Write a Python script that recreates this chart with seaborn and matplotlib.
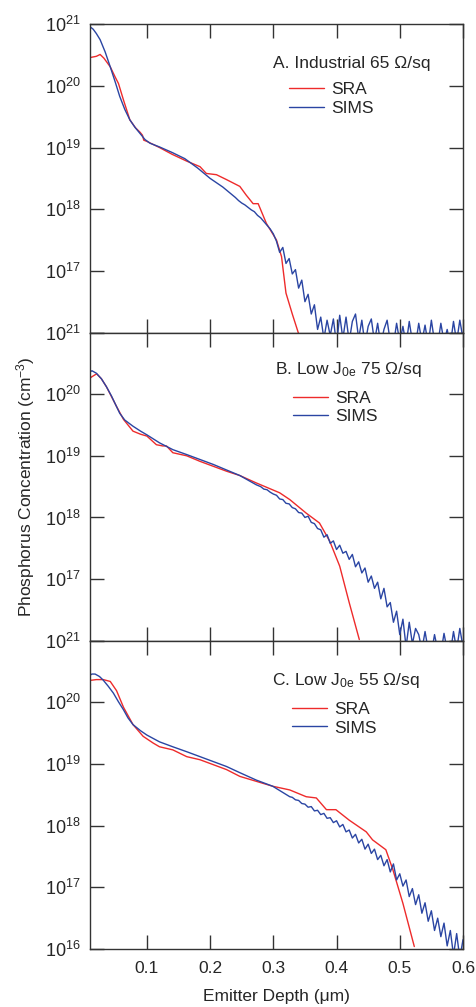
import numpy as np
import pandas as pd
import seaborn as sns
import matplotlib.pyplot as plt
from matplotlib.ticker import FixedLocator, NullLocator, FuncFormatter

# ─────────────────────────────────────────
# Data (depth in um, concentration as log10 cm^-3)
# ─────────────────────────────────────────
titles = ["A. Industrial 65 Ω/sq",
          "B. Low J$_{0e}$ 75 Ω/sq",
          "C. Low J$_{0e}$ 55 Ω/sq"]

# Panel A
sra_a_x = [0.01, 0.02, 0.026, 0.032, 0.042, 0.05, 0.055, 0.063, 0.073, 0.082, 0.089, 0.093,
           0.095, 0.1, 0.12, 0.14, 0.163, 0.184, 0.194, 0.21, 0.226, 0.247, 0.257, 0.268,
           0.276, 0.289, 0.305, 0.313, 0.32, 0.33, 0.34]
sra_a_y = [20.46, 20.48, 20.51, 20.45, 20.31, 20.14, 20.04, 19.77, 19.45, 19.32, 19.25, 19.20,
           19.12, 19.10, 19.00, 18.89, 18.78, 18.69, 18.58, 18.56, 18.48, 18.37, 18.23, 18.09,
           18.09, 17.77, 17.50, 17.23, 16.64, 16.30, 15.98]
sims_a_head_x = [0.01, 0.015, 0.02, 0.026, 0.034, 0.042, 0.05, 0.057, 0.065, 0.073, 0.081,
                 0.089, 0.097, 0.105, 0.12, 0.14, 0.16, 0.18, 0.2, 0.22, 0.24]
sims_a_head_y = [20.96, 20.92, 20.85, 20.75, 20.55, 20.31, 20.06, 19.83, 19.62, 19.45, 19.33,
                 19.23, 19.13, 19.07, 19.01, 18.92, 18.82, 18.67, 18.50, 18.36, 18.19]
sims_a_tail_y = [18.14, 18.10, 18.07, 18.03, 17.99, 17.96, 17.90, 17.86, 17.80, 17.74, 17.68,
                 17.60, 17.48, 17.30, 17.38, 17.12, 17.20, 16.95, 17.02, 16.72, 16.85, 16.50,
                 16.62, 16.30, 16.45, 16.05, 16.25, 15.90, 16.20, 15.95, 16.22, 15.80, 16.28,
                 15.90, 16.25, 15.85, 16.18, 16.30, 15.90, 16.20, 15.80, 16.10, 16.22, 15.85,
                 16.15, 15.80, 16.05, 16.20, 15.85, 15.80, 16.15, 15.85, 16.10, 15.80, 16.18,
                 15.85, 15.80, 16.15, 15.85, 16.12, 15.80, 16.20, 15.85, 15.80, 16.15, 15.85,
                 16.05, 15.80, 16.18, 15.85, 16.20, 15.90]
sims_a_tail_x = np.round(0.245 + 0.005 * np.arange(len(sims_a_tail_y)), 3)

# Panel B
sra_b_x = [0.01, 0.0126, 0.0205, 0.028, 0.036, 0.044, 0.052, 0.063, 0.078, 0.09, 0.1, 0.115,
           0.125, 0.131, 0.141, 0.163, 0.184, 0.205, 0.226, 0.247, 0.273, 0.31, 0.326, 0.352,
           0.373, 0.389, 0.405, 0.42, 0.436]
sra_b_y = [20.26, 20.28, 20.33, 20.25, 20.12, 19.96, 19.80, 19.59, 19.40, 19.35, 19.32, 19.18,
           19.16, 19.16, 19.05, 19.00, 18.91, 18.83, 18.75, 18.68, 18.56, 18.40, 18.29, 18.07,
           17.91, 17.62, 17.21, 16.62, 16.02]
sims_b_head_x = [0.01, 0.013, 0.02, 0.028, 0.036, 0.044, 0.05, 0.057, 0.065, 0.078, 0.09, 0.1,
                 0.12, 0.141, 0.163, 0.184, 0.205, 0.226, 0.247, 0.273]
sims_b_head_y = [20.36, 20.38, 20.34, 20.25, 20.12, 19.97, 19.84, 19.69, 19.58, 19.48, 19.40,
                 19.34, 19.21, 19.10, 19.02, 18.94, 18.86, 18.77, 18.68, 18.53]
sims_b_tail_y = [18.50, 18.46, 18.45, 18.41, 18.38, 18.36, 18.30, 18.29, 18.23, 18.22, 18.16,
                 18.14, 18.08, 18.07, 18.00, 18.02, 17.92, 17.90, 17.82, 17.80, 17.68, 17.72,
                 17.58, 17.62, 17.48, 17.55, 17.42, 17.45, 17.32, 17.40, 17.20, 17.28, 17.10,
                 17.18, 16.95, 17.05, 16.85, 16.95, 16.68, 16.85, 16.55, 16.62, 16.30, 16.48,
                 16.10, 16.35, 15.90, 16.30, 15.95, 16.20, 16.10, 15.85, 16.15, 15.85, 15.80,
                 16.10, 15.85, 15.80, 16.12, 15.85, 15.80, 16.15, 15.85, 16.20, 15.90]
sims_b_tail_x = np.round(0.28 + 0.005 * np.arange(len(sims_b_tail_y)), 3)

# Panel C
sra_c_x = [0.01, 0.0126, 0.02, 0.031, 0.042, 0.052, 0.063, 0.078, 0.094, 0.11, 0.12, 0.141,
           0.163, 0.184, 0.205, 0.226, 0.247, 0.273, 0.299, 0.326, 0.352, 0.368, 0.384, 0.399,
           0.42, 0.447, 0.457, 0.478, 0.489, 0.505, 0.523]
sra_c_y = [20.36, 20.36, 20.37, 20.37, 20.34, 20.19, 19.92, 19.64, 19.45, 19.34, 19.28, 19.23,
           19.12, 19.07, 18.99, 18.91, 18.80, 18.72, 18.64, 18.58, 18.47, 18.45, 18.26, 18.26,
           18.09, 17.90, 17.77, 17.61, 17.29, 16.74, 16.04]
sims_c_head_x = [0.01, 0.013, 0.018, 0.025, 0.031, 0.039, 0.047, 0.055, 0.063, 0.07, 0.078,
                 0.09, 0.1, 0.12, 0.141, 0.163, 0.184, 0.205, 0.226, 0.247, 0.273, 0.299, 0.326]
sims_c_head_y = [20.44, 20.46, 20.46, 20.42, 20.36, 20.26, 20.15, 20.01, 19.88, 19.75, 19.64,
                 19.54, 19.47, 19.36, 19.28, 19.20, 19.12, 19.04, 18.96, 18.86, 18.74, 18.64, 18.47]
sims_c_tail_y = [18.46, 18.42, 18.41, 18.36, 18.35, 18.30, 18.31, 18.24, 18.25, 18.18, 18.20,
                 18.12, 18.13, 18.05, 18.08, 17.98, 18.02, 17.90, 17.93, 17.80, 17.86, 17.72,
                 17.78, 17.62, 17.70, 17.55, 17.62, 17.45, 17.52, 17.35, 17.45, 17.25, 17.38,
                 17.12, 17.22, 17.02, 17.12, 16.85, 16.98, 16.72, 16.88, 16.58, 16.75, 16.45,
                 16.62, 16.30, 16.50, 16.20, 16.42, 16.05, 16.30, 15.90, 16.25, 15.85, 16.15]
sims_c_tail_x = np.round(0.33 + 0.005 * np.arange(len(sims_c_tail_y)), 3)

panels = [
    (sra_a_x, sra_a_y, sims_a_head_x + list(sims_a_tail_x), sims_a_head_y + sims_a_tail_y),
    (sra_b_x, sra_b_y, sims_b_head_x + list(sims_b_tail_x), sims_b_head_y + sims_b_tail_y),
    (sra_c_x, sra_c_y, sims_c_head_x + list(sims_c_tail_x), sims_c_head_y + sims_c_tail_y),
]

# ─────────────────────────────────────────
# Style
# ─────────────────────────────────────────
sns.set_style("ticks")
plt.rcParams['font.family'] = ['Liberation Sans', 'DejaVu Sans']
plt.rcParams['mathtext.fontset'] = 'custom'
plt.rcParams['mathtext.rm'] = 'Liberation Sans'
plt.rcParams['mathtext.default'] = 'regular'

RED = "#ee2b2b"
BLUE = "#2a45a3"
SPINE = "#333333"


def decade_label(v, pos):
    return "$10^{%d}$" % int(round(np.log10(v)))


def decade_label_no_bottom(v, pos):
    e = int(round(np.log10(v)))
    return "" if e == 16 else "$10^{%d}$" % e


fig, axes = plt.subplots(3, 1, sharex=True, figsize=(4.77, 10.07), dpi=100)
fig.subplots_adjust(left=0.1887, right=0.9706, top=0.9759, bottom=0.0576, hspace=0)

title_pos = [(0.702, 0.874), (0.692, 0.879), (0.686, 0.870)]
legend_pos = [(0.5335, 0.812), (0.544, 0.812), (0.5416, 0.802)]

for i, (ax, (sx, sy, mx, my)) in enumerate(zip(axes, panels)):
    sra = pd.DataFrame({"depth": sx, "conc": 10 ** np.array(sy)})
    sims = pd.DataFrame({"depth": mx, "conc": 10 ** np.array(my)})
    sns.lineplot(data=sra, x="depth", y="conc", ax=ax, color=RED, lw=1.0,
                 sort=False, estimator=None, label="SRA")
    sns.lineplot(data=sims, x="depth", y="conc", ax=ax, color=BLUE, lw=1.0,
                 sort=False, estimator=None, label="SIMS")
    ax.set_yscale("log")
    ax.set_ylim(1e16, 1e21)
    ax.set_xlim(0.01, 0.6)
    ax.yaxis.set_major_locator(FixedLocator([1e16, 1e17, 1e18, 1e19, 1e20, 1e21]))
    ax.yaxis.set_minor_locator(NullLocator())
    ax.yaxis.set_major_formatter(FuncFormatter(decade_label if i == 2 else decade_label_no_bottom))
    ax.xaxis.set_major_locator(FixedLocator([0.1, 0.2, 0.3, 0.4, 0.5, 0.6]))
    ax.tick_params(axis="both", which="major", direction="in", length=10, width=1,
                   color=SPINE, top=True, right=True, labelsize=13)
    ax.tick_params(axis="y", pad=7)
    ax.tick_params(axis="x", pad=9, labelsize=12.5)
    for s in ax.spines.values():
        s.set_color(SPINE)
        s.set_linewidth(1)
    ax.set_xlabel("")
    ax.set_ylabel("")
    if i < 2:
        ax.tick_params(axis="x", labelbottom=False)

    ax.text(title_pos[i][0], title_pos[i][1], titles[i], transform=ax.transAxes,
            ha="center", va="center", fontsize=12.5)
    ax.legend(loc="upper left", bbox_to_anchor=legend_pos[i], frameon=False,
              fontsize=12.5, borderpad=0, borderaxespad=0, handlelength=2.0,
              handletextpad=0.45, labelspacing=0.2)

fig.text(26 / 477, 1 - 486.6 / 1007, "Phosphorus Concentration (cm$^{-3}$)",
         rotation=90, ha="center", va="center", fontsize=12.5)
fig.text(276.5 / 477, 1 - 997 / 1007, "Emitter Depth (μm)",
         ha="center", va="center", fontsize=12.5)

plt.savefig("out.png", dpi=100)
